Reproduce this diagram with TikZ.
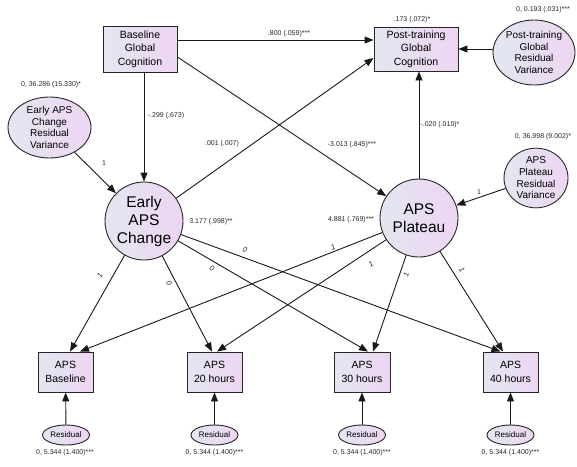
\documentclass[tikz,border=0pt]{standalone}
\usepackage{fontspec}
\setmainfont{Liberation Sans}
\usetikzlibrary{shapes.geometric,arrows.meta}
\definecolor{gL}{RGB}{226,231,241}
\definecolor{gR}{RGB}{238,213,242}
\tikzset{
 gradfill/.style={left color=gL,right color=gR,draw=black!85,line width=0.9pt},
 obsbox/.style={gradfill,rectangle,inner sep=0pt,align=center,font=\fontsize{10.5}{13.3}\selectfont},
 latent/.style={gradfill,circle,inner sep=0pt,minimum size=78pt,align=center,font=\fontsize{15.5}{18}\selectfont},
 resvar/.style={gradfill,ellipse,inner sep=0pt,align=center,font=\fontsize{10}{11.7}\selectfont},
 resid/.style={gradfill,ellipse,inner sep=0pt,minimum width=47pt,minimum height=20pt,font=\fontsize{8}{9}\selectfont},
 lbl/.style={font=\fontsize{7}{8}\selectfont,inner sep=0pt,text=black!85},
 ilbl/.style={font=\fontsize{7.5}{8}\selectfont\itshape,inner sep=0pt,text=black!85},
 arr/.style={draw=black!90,line width=0.9pt,-{Triangle[length=9pt,width=7pt]}},
}
\begin{document}
\begin{tikzpicture}[x=1pt,y=-1pt]
\useasboundingbox (0,0) rectangle (577,466);
% nodes
\node[obsbox,minimum width=74pt,minimum height=46pt] (base) at (140,49) {Baseline\\Global\\Cognition};
\node[obsbox,minimum width=84pt,minimum height=44pt] (post) at (416,49) {Post-training\\Global\\Cognition};
\node[resvar,minimum width=82pt,minimum height=65pt] (pres) at (534,52.5) {Post-training\\Global\\Residual\\Variance};
\node[resvar,minimum width=83pt,minimum height=61pt] (eres) at (49.5,127.5) {Early APS\\Change\\Residual\\Variance};
\node[resvar,minimum width=64pt,minimum height=57pt] (plres) at (536,178) {APS\\Plateau\\Residual\\Variance};
\node[latent] (early) at (144,221) {Early\\APS\\Change};
\node[latent] (plat) at (419,218) {APS\\Plateau};
\node[obsbox,minimum width=55pt,minimum height=40pt] (b0) at (65.5,372) {APS\\Baseline};
\node[obsbox,minimum width=55pt,minimum height=40pt] (b20) at (214.5,372) {APS\\20 hours};
\node[obsbox,minimum width=56pt,minimum height=40pt] (b30) at (362,372) {APS\\30 hours};
\node[obsbox,minimum width=55pt,minimum height=40pt] (b40) at (510.5,372) {APS\\40 hours};
\node[resid] (r0) at (66,435) {Residual};
\node[resid] (r20) at (214.5,435) {Residual};
\node[resid] (r30) at (362,435) {Residual};
\node[resid] (r40) at (510.5,435) {Residual};
% connectors
\draw[arr] ([yshift=9pt]base.east) -- ([yshift=9pt]post.west);
\draw[arr] ([yshift=-8pt]base.east) -- (plat);
\draw[arr] (base.south -| early.north) -- (early.north);
\draw[arr] (early) -- ([yshift=-9pt]post.west);
\draw[arr] (plat.north) -- (plat.north |- post.south);
\draw[arr] (post.east -| pres.west) -- (post.east);
\draw[arr] (eres) -- (early);
\draw[arr] (plres) -- (plat);
\draw[arr] (early) -- ([xshift=4.5pt]b0.north);
\draw[arr] (plat) -- ([xshift=14.5pt]b0.north);
\draw[arr] (early) -- ([xshift=-2.5pt]b20.north);
\draw[arr] (plat) -- ([xshift=2.5pt]b20.north);
\draw[arr] (early) -- ([xshift=6pt]b30.north);
\draw[arr] (plat) -- ([xshift=11pt]b30.north);
\draw[arr] (early) -- ([xshift=-10pt]b40.north);
\draw[arr] (plat) -- ([xshift=-7.5pt]b40.north);
\draw[arr] (r0) -- (b0);
\draw[arr] (r20) -- (b20);
\draw[arr] (r30) -- (b30);
\draw[arr] (r40) -- (b40);
% labels
\node[lbl] (l1) at (289,34) {.800 (.059)***};
\node[lbl] (l2) at (412,20) {.173 (.072)*};
\node[lbl] (l3) at (543,10) {0, 0.193 (.031)***};
\node[lbl] (l4) at (51,85) {0, 36.286 (15.330)*};
\node[lbl] (l5) at (166,116) {-.299 (.673)};
\node[lbl] (l6) at (222,144) {.001 (.007)};
\node[lbl] (l7) at (352,145) {-3.013 (.845)***};
\node[lbl] (l8) at (440,125) {-.020 (.010)*};
\node[lbl] (l9) at (543,137) {0, 36.998 (9.002)*};
\node[lbl] (l10) at (211,222) {3.177 (.998)**};
\node[lbl] (l11) at (351,220) {4.881 (.769)***};
\node[lbl] (l12) at (104,163) {1};
\node[lbl] (l13) at (479,192) {1};
\node[ilbl,rotate=61] (m1) at (100,275) {1};
\node[ilbl,rotate=-63] (m2) at (169,283) {0};
\node[ilbl,rotate=-30] (m3) at (212,268) {0};
\node[ilbl,rotate=-20] (m4) at (245,250) {0};
\node[ilbl,rotate=22] (m5) at (333,247) {1};
\node[ilbl,rotate=34] (m6) at (371,264) {1};
\node[ilbl,rotate=71] (m7) at (406,275) {1};
\node[ilbl,rotate=-58] (m8) at (462,270) {1};
\node[lbl] (q0) at (65,453) {0, 5.344 (1.400)***};
\node[lbl] (q20) at (214.5,453) {0, 5.344 (1.400)***};
\node[lbl] (q30) at (362,453) {0, 5.344 (1.400)***};
\node[lbl] (q40) at (510.5,453) {0, 5.344 (1.400)***};
\end{tikzpicture}
\end{document}
